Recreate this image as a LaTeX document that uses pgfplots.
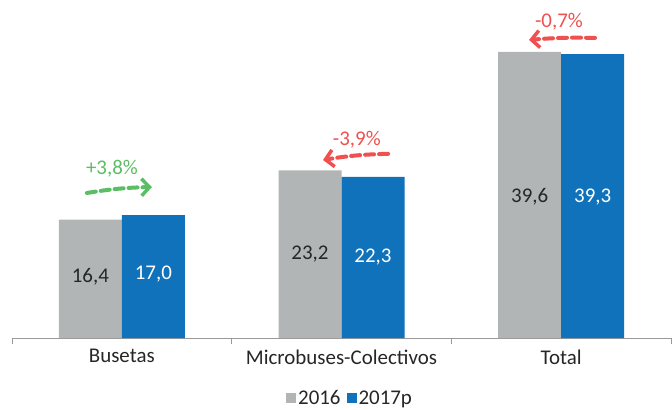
\documentclass[border=0pt]{standalone}
\usepackage{pgfplots}
\pgfplotsset{compat=1.18}
\usepackage{fontspec}
\setmainfont{Carlito}
\usetikzlibrary{arrows.meta}
\definecolor{bgray}{RGB}{178,181,182}
\definecolor{bblue}{RGB}{15,114,186}
\definecolor{agreen}{RGB}{92,190,100}
\definecolor{ared}{RGB}{240,80,80}
\definecolor{txt}{RGB}{38,38,38}
\begin{document}
\begin{tikzpicture}
\useasboundingbox (0,0) rectangle (672bp,410bp);
\begin{axis}[
  at={(12bp,72bp)}, anchor=south west,
  width=659bp, height=325bp, scale only axis,
  ybar=0pt, bar width=63bp,
  xmin=-0.5, xmax=2.5, ymin=0, ymax=45,
  axis x line=bottom, axis y line=none,
  x axis line style={-, draw=gray!80},
  xtick={0,1,2}, xticklabels={Busetas,Microbuses-Colectivos,Total},
  major tick length=0pt,
  extra x ticks={-0.5,0.5,1.5,2.5}, extra x tick labels={},
  extra x tick style={major tick length=6bp, tick align=outside, tick style={draw=gray!80, thin}},
  xticklabel style={font=\fontsize{21}{23}\selectfont, text=txt, yshift=-8bp},
  clip=false,
  legend style={at={(0.513,-0.185)}, anchor=center, draw=none, legend columns=2,
    font=\fontsize{21}{23}\selectfont, text=txt, inner sep=1bp,
    /tikz/every even column/.append style={column sep=4bp}},
  legend image code/.code={\fill[#1] (0bp,-5bp) rectangle (10bp,5bp);},
]
\addplot[fill=bgray, draw=none] coordinates {(0,16.4) (1,23.2) (2,39.6)};
\addplot[fill=bblue, draw=none] coordinates {(0,17.0) (1,22.3) (2,39.3)};
\legend{2016,2017p}
\begin{scope}[font=\fontsize{21}{23}\selectfont]
\node[text=txt] at (axis cs:0,8.5) [xshift=-31.5bp] {16,4};
\node[text=white] at (axis cs:0,8.8) [xshift=31.5bp] {17,0};
\node[text=txt] at (axis cs:1,11.6) [xshift=-31.5bp] {23,2};
\node[text=white] at (axis cs:1,11.15) [xshift=31.5bp] {22,3};
\node[text=txt] at (axis cs:2,19.6) [xshift=-31.5bp] {39,6};
\node[text=white] at (axis cs:2,19.45) [xshift=31.5bp] {39,3};
\node[text=agreen] at (axis cs:-0.045,23.4) {+3,8\%};
\node[text=ared] at (axis cs:1.07,27.4) {-3,9\%};
\node[text=ared] at (axis cs:1.99,43.77) {-0,7\%};
\end{scope}
\draw[agreen, line width=4bp, line cap=round, dash pattern=on 9bp off 5bp,
  -{Straight Barb[length=8bp,width=17bp,line width=3.5bp]}]
  (axis cs:-0.159,20.08) to[bend left=4] (axis cs:0.137,20.9);
\draw[ared, line width=4bp, line cap=round, dash pattern=on 9bp off 5bp,
  -{Straight Barb[length=8bp,width=17bp,line width=3.5bp]}]
  (axis cs:1.212,25.5) to[bend right=4] (axis cs:0.916,24.65);
\draw[ared, line width=4bp, line cap=round, dash pattern=on 9bp off 5bp,
  -{Straight Barb[length=8bp,width=17bp,line width=3.5bp]}]
  (axis cs:2.154,41.55) to[bend right=3] (axis cs:1.854,41.27);
\end{axis}
\end{tikzpicture}
\end{document}
